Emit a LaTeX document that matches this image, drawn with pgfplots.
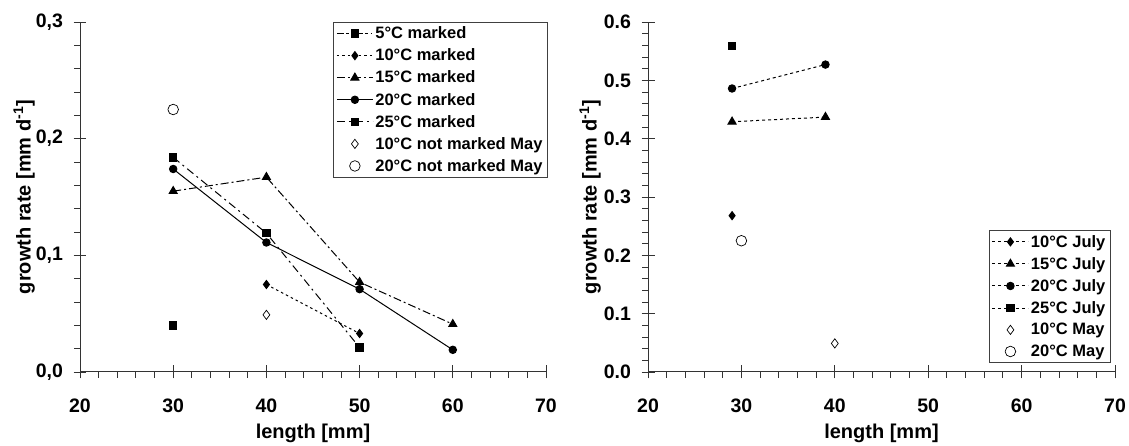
\documentclass[border=0pt]{standalone}
\usepackage{fontspec}
\setmainfont{Liberation Sans}
\usepackage{pgfplots}
\pgfplotsset{compat=1.18}

% growth rates, left panel (marked animals and May controls)
\pgfplotstableread{
x y
30 0.040
}\fiveM
\pgfplotstableread{
x y
40 0.075
50 0.033
}\tenM
\pgfplotstableread{
x y
30 0.155
40 0.167
50 0.077
60 0.041
}\fifteenM
\pgfplotstableread{
x y
30 0.174
40 0.111
50 0.071
60 0.019
}\twentyM
\pgfplotstableread{
x y
30 0.184
40 0.119
50 0.021
}\twentyfiveM
\pgfplotstableread{
x y
40 0.049
}\tenMay
\pgfplotstableread{
x y
30 0.225
}\twentyMay
% right panel (July)
\pgfplotstableread{
x y
29 0.268
}\tenJ
\pgfplotstableread{
x y
29 0.429
39 0.437
}\fifteenJ
\pgfplotstableread{
x y
29 0.486
39 0.527
}\twentyJ
\pgfplotstableread{
x y
29 0.559
}\twentyfiveJ

\pgfplotsset{
  growth/.style={
    scale only axis, width=466pt, height=350pt,
    axis lines*=left,
    axis line style={black!80, line width=1pt},
    enlargelimits=false, clip=false,
    xmin=20, xmax=70, xtick={20,30,...,70}, minor x tick num=4,
    tick align=center, major tick length=13pt, minor tick length=6pt,
    minor x tick style={yshift=-3pt}, minor y tick style={xshift=-3pt},
    tick style={black!80, line width=0.9pt},
    /pgf/number format/assume math mode=true,
    ticklabel style={font=\fontsize{19.5}{21}\selectfont\bfseries},
    xticklabel style={yshift=-17pt},
    yticklabel style={xshift=-7pt},
    label style={font=\fontsize{20}{22}\selectfont\bfseries},
    xlabel={length [mm]},
    ylabel={growth rate [mm d\textsuperscript{-1}]},
    xlabel style={at={(axis description cs:0.5,0)}, anchor=center, yshift=-61pt},
    legend style={draw=black!75, line width=0.8pt,
      font=\fontsize{16.5}{19}\selectfont\bfseries,
      inner xsep=3pt, inner ysep=2.5pt, row sep=4.6pt, cells={anchor=west}},
    legend image code/.code={
      \draw[mark repeat=2, mark phase=2, #1]
        plot coordinates {(0pt,0pt) (18pt,0pt) (36pt,0pt)};},
    every axis plot/.append style={black, line width=1pt},
  },
  sq/.style={mark=square*, mark size=3.7pt, mark options={solid}},
  ci/.style={mark=*, mark size=3.7pt, mark options={solid}},
  tr/.style={mark=triangle*, mark size=4.6pt, mark options={solid}},
  di/.style={mark=diamond*, mark size=4pt, mark options={solid}},
}

\begin{document}
\begin{tikzpicture}
\path[use as bounding box] (0,0) rectangle (1129pt,446pt);

\begin{axis}[growth,
  at={(80pt,74pt)}, anchor=south west,
  ymin=0, ymax=0.3, ytick={0,0.1,0.2,0.3}, minor y tick num=4,
  yticklabel style={/pgf/number format/.cd, fixed, fixed zerofill, precision=1, use comma},
  ylabel style={at={(axis description cs:-0.120,0.5)}, anchor=center},
  legend style={at={(1.004,1)}, anchor=north east},
]
\addplot[sq, dash pattern=on 7pt off 2pt on 3pt off 3pt on 1pt off 3pt] table {\fiveM};
\addlegendentry{5°C marked}
\addplot[di, dash pattern=on 2.5pt off 3pt] table {\tenM};
\addlegendentry{10°C marked}
\addplot[tr, dash pattern=on 8pt off 3pt on 2pt off 3pt] table {\fifteenM};
\addlegendentry{15°C marked}
\addplot[ci, solid] table {\twentyM};
\addlegendentry{20°C marked}
\addplot[sq, dash pattern=on 8pt off 4pt on 2pt off 4pt] table {\twentyfiveM};
\addlegendentry{25°C marked}
\addplot[only marks, mark=diamond, mark size=4.6pt, line width=0.7pt] table {\tenMay};
\addlegendentry{10°C not marked May}
\addplot[only marks, mark=o, mark size=5.3pt, line width=0.7pt] table {\twentyMay};
\addlegendentry{20°C not marked May}
\end{axis}

\begin{axis}[growth,
  at={(648pt,74pt)}, anchor=south west, width=467pt,
  ymin=0, ymax=0.6, ytick={0,0.1,...,0.6}, minor y tick num=4,
  yticklabel style={/pgf/number format/.cd, fixed, fixed zerofill, precision=1},
  ylabel style={at={(axis description cs:-0.124,0.5)}, anchor=center},
  legend style={at={(0.991,0.026)}, anchor=south east},
]
\addplot[di, dash pattern=on 3pt off 3pt] table {\tenJ};
\addlegendentry{10°C July}
\addplot[tr, dash pattern=on 3pt off 3pt] table {\fifteenJ};
\addlegendentry{15°C July}
\addplot[ci, dash pattern=on 3pt off 3pt] table {\twentyJ};
\addlegendentry{20°C July}
\addplot[sq, dash pattern=on 3pt off 3pt] table {\twentyfiveJ};
\addlegendentry{25°C July}
\addplot[only marks, mark=diamond, mark size=4.6pt, line width=0.7pt] table {\tenMay};
\addlegendentry{10°C May}
\addplot[only marks, mark=o, mark size=5.3pt, line width=0.7pt] table {\twentyMay};
\addlegendentry{20°C May}
\end{axis}
\end{tikzpicture}
\end{document}
